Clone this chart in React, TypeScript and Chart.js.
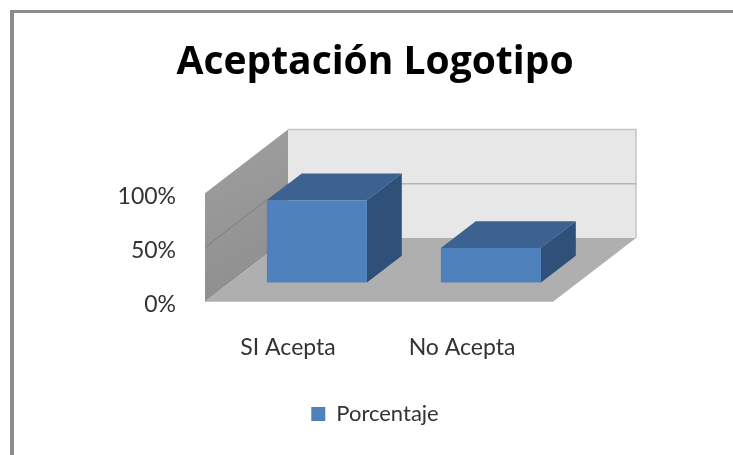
import React, { useEffect, useRef } from 'react';
import { Chart, registerables } from 'chart.js';

Chart.register(...registerables);

const chartTitle = 'Aceptación Logotipo';
const categories = ['SI Acepta', 'No Acepta'];
const seriesLabel = 'Porcentaje';
const porcentaje = [76, 32];
const yTickValues = [0, 50, 100];

// 3D geometry (style)
const DEPTH_DX = 83;
const DEPTH_DY = -63.7;
const BAR_FRONT = 0.3;
const BAR_BACK = 0.72;

const FONT = 'Lato, "Open Sans", sans-serif';
const TITLE_FONT = '"Open Sans", Lato, sans-serif';

function poly(ctx: CanvasRenderingContext2D, pts: number[][], fill: string | CanvasGradient) {
  ctx.beginPath();
  ctx.moveTo(pts[0][0], pts[0][1]);
  for (let i = 1; i < pts.length; i++) ctx.lineTo(pts[i][0], pts[i][1]);
  ctx.closePath();
  ctx.fillStyle = fill;
  ctx.fill();
}

const threeD = {
  id: 'threeD',
  beforeDatasetsDraw(chart: any) {
    const { ctx, chartArea: a, scales } = chart;
    const ys = scales.y;
    const L = a.left;
    const R = a.right;
    const y0 = ys.getPixelForValue(0);
    const yMid = ys.getPixelForValue(50);
    const yMax = ys.getPixelForValue(100);
    const dx = DEPTH_DX;
    const dy = DEPTH_DY;
    ctx.save();
    // back wall
    poly(ctx, [[L + dx, yMax + dy], [R + dx, yMax + dy], [R + dx, y0 + dy], [L + dx, y0 + dy]], '#e7e7e7');
    ctx.strokeStyle = '#c4c4c4';
    ctx.lineWidth = 1.5;
    ctx.beginPath();
    ctx.moveTo(L + dx, yMax + dy);
    ctx.lineTo(R + dx, yMax + dy);
    ctx.lineTo(R + dx, y0 + dy);
    ctx.stroke();
    ctx.strokeStyle = '#b5b5b5';
    ctx.beginPath();
    ctx.moveTo(L + dx, yMid + dy);
    ctx.lineTo(R + dx, yMid + dy);
    ctx.stroke();
    // side wall
    const g = ctx.createLinearGradient(L, yMax + dy, L + dx, y0);
    g.addColorStop(0, '#a0a0a0');
    g.addColorStop(1, '#8c8c8c');
    poly(ctx, [[L, yMax], [L + dx, yMax + dy], [L + dx, y0 + dy], [L, y0]], g);
    ctx.strokeStyle = '#7e7e7e';
    ctx.lineWidth = 1;
    ctx.beginPath();
    ctx.moveTo(L, yMid);
    ctx.lineTo(L + dx, yMid + dy);
    ctx.stroke();
    // floor
    poly(ctx, [[L, y0], [R, y0], [R + dx, y0 + dy], [L + dx, y0 + dy]], '#afafaf');

    // bars
    const meta = chart.getDatasetMeta(0);
    meta.data.forEach((el: any) => {
      const { x, y, base, width } = el.getProps(['x', 'y', 'base', 'width'], true);
      const fx = BAR_FRONT * dx;
      const fy = BAR_FRONT * dy;
      const bx = (BAR_BACK - BAR_FRONT) * dx;
      const by = (BAR_BACK - BAR_FRONT) * dy;
      const l = x - width / 2 + fx;
      const r = x + width / 2 + fx;
      const t = y + fy;
      const b = base + fy;
      // top
      poly(ctx, [[l, t], [l + bx, t + by], [r + bx, t + by], [r, t]], '#3c6291');
      // side
      poly(ctx, [[r, t], [r + bx, t + by], [r + bx, b + by], [r, b]], '#2f5179');
      // front
      poly(ctx, [[l, t], [r, t], [r, b], [l, b]], '#4f81bd');
    });
    ctx.restore();
    return false;
  },
};

export default function App() {
  const ref = useRef<HTMLCanvasElement | null>(null);
  useEffect(() => {
    if (!ref.current) return;
    const chart = new Chart(ref.current, {
      type: 'bar',
      data: {
        labels: categories,
        datasets: [
          {
            label: seriesLabel,
            data: porcentaje,
            backgroundColor: '#4f81bd',
            borderWidth: 0,
            barPercentage: 0.575,
            categoryPercentage: 1,
          },
        ],
      },
      options: {
        responsive: false,
        animation: false,
        devicePixelRatio: 1,
        layout: { padding: { left: 17, right: 0, top: 0, bottom: 20 } },
        plugins: {
          title: {
            display: true,
            text: chartTitle,
            color: '#000',
            font: { family: TITLE_FONT, size: 39, weight: 'bold' },
            padding: { top: 39.8, bottom: 106.7 },
          },
          legend: {
            display: true,
            position: 'bottom',
            labels: {
              color: '#333',
              font: { family: FONT, size: 22 },
              boxWidth: 14,
              boxHeight: 14,
              padding: 10,
            },
          },
          tooltip: { enabled: false },
        },
        scales: {
          x: {
            grid: { display: false, drawTicks: false },
            border: { display: false },
            ticks: {
              color: '#333',
              font: { family: FONT, size: 23 },
              padding: 32.5,
              labelOffset: -4,
            },
            afterFit(ax: any) {
              ax.height = 91.3;
            },
          },
          y: {
            min: 0,
            max: 100,
            grid: { display: false, drawTicks: false },
            border: { display: false },
            afterBuildTicks(ax: any) {
              ax.ticks = yTickValues.map((v) => ({ value: v }));
            },
            ticks: {
              color: '#333',
              font: { family: FONT, size: 23 },
              padding: 29,
              labelOffset: 3,
              callback: (v: any) => v + '%',
            },
            afterFit(ax: any) {
              ax.width = 188;
            },
          },
          y2: {
            position: 'right',
            display: true,
            grid: { display: false, drawTicks: false },
            border: { display: false },
            ticks: { display: false },
            afterFit(ax: any) {
              ax.width = 180;
            },
          },
        },
      },
      plugins: [threeD],
    } as any);
    return () => chart.destroy();
  }, []);

  return (
    <div style={{ position: 'fixed', left: 0, top: 0, width: 733, height: 455, background: '#fff', overflow: 'hidden' }}>
      <div
        style={{
          position: 'absolute',
          left: 10,
          top: 10,
          width: 723,
          height: 445,
          boxSizing: 'border-box',
          borderTop: '3px solid #8c8c8c',
          borderLeft: '4px solid #8c8c8c',
        }}
      />
      <canvas ref={ref} width={733} height={455} style={{ position: 'absolute', left: 0, top: 0 }} />
    </div>
  );
}
